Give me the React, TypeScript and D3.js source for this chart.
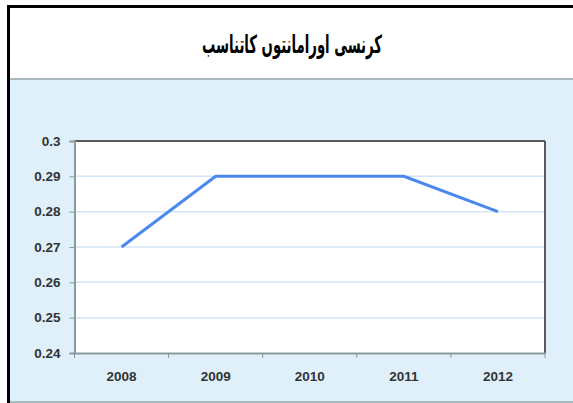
import React, { useRef, useEffect } from "react";
import * as d3 from "d3";

// chart data
const years = ["2008", "2009", "2010", "2011", "2012"];
const ratio = [0.27, 0.29, 0.29, 0.29, 0.28];
const yTicks = [0.24, 0.25, 0.26, 0.27, 0.28, 0.29, 0.3];
const title = "کرنسی اورامانتوں کاتناسب";

const W = 573;
const H = 403;

const App = () => {
  const ref = useRef<SVGSVGElement>(null);

  useEffect(() => {
    if (!ref.current) return;
    const svg = d3.select(ref.current);
    svg.selectAll("*").remove();

    // panel backgrounds
    svg.append("rect").attr("x", 0).attr("y", 0).attr("width", W).attr("height", H).attr("fill", "#ffffff");
    svg.append("rect").attr("x", 10).attr("y", 80).attr("width", W - 10).attr("height", 321).attr("fill", "#dff0fa");
    svg.append("rect").attr("x", 10).attr("y", 78).attr("width", W - 10).attr("height", 2).attr("fill", "#a9babf");
    svg.append("rect").attr("x", 10).attr("y", 401).attr("width", W - 10).attr("height", 2).attr("fill", "#a9babf");
    // black frame
    svg.append("rect").attr("x", 7).attr("y", 5).attr("width", W - 7).attr("height", 3).attr("fill", "#000");
    svg.append("rect").attr("x", 7).attr("y", 5).attr("width", 3).attr("height", H - 5).attr("fill", "#000");

    svg
      .append("text")
      .attr("x", 292)
      .attr("y", 53)
      .attr("text-anchor", "middle")
      .attr("direction", "rtl")
      .attr("textLength", 180)
      .attr("lengthAdjust", "spacingAndGlyphs")
      .style("font-family", "'DejaVu Sans', sans-serif")
      .style("font-size", "25px")
      .style("font-weight", "bold")
      .attr("fill", "#000")
      .text(title);

    const m = { left: 74.5, right: 545, top: 141, bottom: 353 };

    const x = d3.scaleBand().domain(years).range([m.left, m.right]).padding(0);
    const y = d3.scaleLinear().domain([0.24, 0.3]).range([m.bottom, m.top]);

    // plot area
    svg
      .append("rect")
      .attr("x", m.left)
      .attr("y", m.top)
      .attr("width", m.right - m.left)
      .attr("height", m.bottom - m.top)
      .attr("fill", "#ffffff");

    // gridlines
    svg
      .append("g")
      .selectAll("line")
      .data(yTicks.slice(1, -1))
      .enter()
      .append("line")
      .attr("x1", m.left)
      .attr("x2", m.right)
      .attr("y1", (d) => y(d))
      .attr("y2", (d) => y(d))
      .attr("stroke", "#d3e6f8")
      .attr("stroke-width", 1.5);

    // frame of plot
    svg.append("line").attr("x1", m.left).attr("x2", m.right).attr("y1", m.top).attr("y2", m.top).attr("stroke", "#5a5a5a").attr("stroke-width", 2);
    svg.append("line").attr("x1", m.right).attr("x2", m.right).attr("y1", m.top).attr("y2", m.bottom).attr("stroke", "#5a5a5a").attr("stroke-width", 2);

    const labelStyle = (sel: any) =>
      sel
        .style("font-family", "'Liberation Sans', Arial, sans-serif")
        .style("font-size", "13.5px")
        .style("font-weight", "bold")
        .attr("fill", "#333");

    // y axis
    const yAxis = svg
      .append("g")
      .attr("transform", "translate(" + m.left + ",0)")
      .call(
        d3
          .axisLeft(y)
          .tickValues(yTicks)
          .tickSize(5)
          .tickPadding(9)
          .tickFormat((d) => String(+(+d).toFixed(2)))
      );
    yAxis.select(".domain").attr("stroke", "#8a9a9e").attr("stroke-width", 2);
    yAxis.selectAll(".tick line").attr("stroke", "#8a9a9e");
    labelStyle(yAxis.selectAll("text"));

    // x axis
    const xAxis = svg
      .append("g")
      .attr("transform", "translate(0," + m.bottom + ")")
      .call(d3.axisBottom(x).tickSize(0).tickPadding(18));
    xAxis.select(".domain").attr("stroke", "#8a9a9e").attr("stroke-width", 2);
    labelStyle(xAxis.selectAll("text"));
    // category boundary ticks
    const bounds = years.map((d) => x(d) as number).concat([m.right]);
    svg
      .append("g")
      .selectAll("line")
      .data(bounds)
      .enter()
      .append("line")
      .attr("x1", (d) => d)
      .attr("x2", (d) => d)
      .attr("y1", m.bottom)
      .attr("y2", m.bottom + 5)
      .attr("stroke", "#8a9a9e");

    // the line
    const data = years.map((yr, i) => ({ yr, v: ratio[i] }));
    const line = d3
      .line<{ yr: string; v: number }>()
      .x((d) => (x(d.yr) as number) + x.bandwidth() / 2)
      .y((d) => y(d.v));
    svg
      .append("path")
      .datum(data)
      .attr("d", line)
      .attr("fill", "none")
      .attr("stroke", "#4a88ee")
      .attr("stroke-width", 3);
  }, []);

  return (
    <svg
      ref={ref}
      width={W}
      height={H}
      style={{ position: "absolute", left: 0, top: 0 }}
    />
  );
};

export default App;
